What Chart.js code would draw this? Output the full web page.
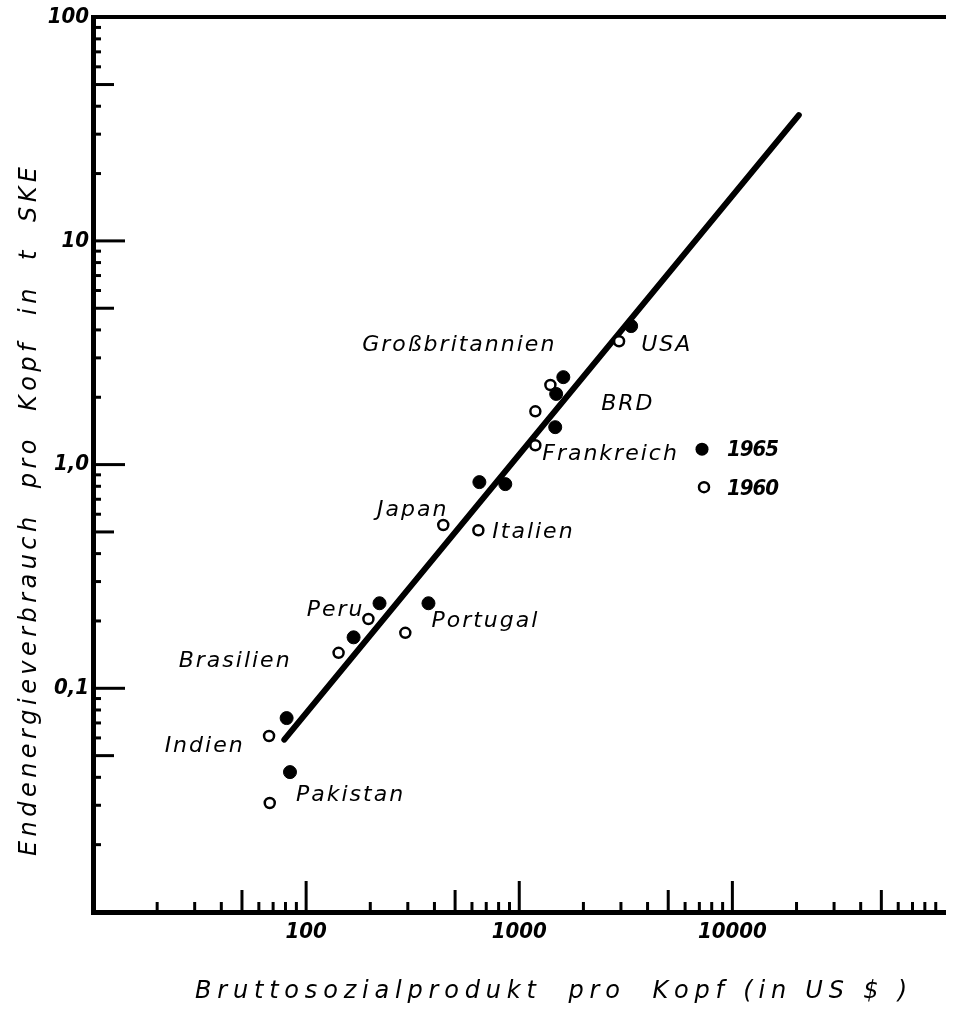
<!DOCTYPE html>
<html>
<head>
<meta charset="utf-8">
<script src="https://cdn.jsdelivr.net/npm/chart.js@4/dist/chart.umd.min.js"></script>
<style>
  html, body { margin: 0; padding: 0; background: #fff; }
  #wrap { width: 953px; height: 1012px; }
</style>
</head>
<body>
<div id="wrap"><canvas id="chart"></canvas></div>
<script>
// Länder (gleiche Reihenfolge in allen Reihen)
var countries = ['USA', 'Großbritannien', 'BRD', 'Frankreich', 'Japan', 'Italien',
                 'Peru', 'Portugal', 'Brasilien', 'Indien', 'Pakistan'];

// Bruttosozialprodukt pro Kopf (US $) und Endenergieverbrauch pro Kopf (t SKE)
var gnp1965    = [3350, 1610, 1490, 1475, 650, 860, 221, 375, 167, 81, 84];
var energy1965 = [4.16, 2.46, 2.07, 1.47, 0.835, 0.818, 0.240, 0.240, 0.169, 0.0736, 0.0422];
var gnp1960    = [2940, 1400, 1190, 1190, 440, 643, 196, 292, 142, 67, 67.5];
var energy1960 = [3.56, 2.27, 1.73, 1.22, 0.537, 0.509, 0.204, 0.177, 0.144, 0.0612, 0.0307];

// Ausgleichsgerade (Anfangs- und Endpunkt)
var trendGnp    = [79, 20500];
var trendEnergy = [0.059, 36.5];

// beschriftete Achsenwerte
var xTickValues = [100, 1000, 10000];
var xTickLabels = ['100', '1000', '10000'];
var yTickValues = [100, 10, 1, 0.1];
var yTickLabels = ['100', '10', '1,0', '0,1'];

var xTitle = 'Bruttosozialprodukt  pro  Kopf (in US $ )';
var yTitle = 'Endenergieverbrauch  pro  Kopf  in  t  SKE';

// Lage der Ländernamen relativ zum Punkt von 1965 (px), Ausrichtung
var labelPlace = [
  [10, 19, 'left'], [-9, -32, 'right'], [45, 10, 'left'], [-13, 27, 'left'],
  [-33, 28, 'right'], [-13, 48, 'left'], [-17, 7, 'right'], [3, 18, 'left'],
  [-64, 24, 'right'], [-44, 28, 'right'], [6, 23, 'left']
];

var FONT = '"DejaVu Sans", sans-serif';
var FONT_NUM = '"DejaVu Sans Condensed", "DejaVu Sans", sans-serif';

function toPoints(xs, ys) {
  return xs.map(function (x, i) { return { x: x, y: ys[i] }; });
}

// alle Werte 1..9 * 10^n zwischen min und max
function decadeTicks(min, max) {
  var out = [];
  for (var e = Math.floor(Math.log10(min)); e <= Math.ceil(Math.log10(max)); e++) {
    for (var m = 1; m <= 9; m++) {
      var v = Number((m * Math.pow(10, e)).toPrecision(3));
      if (v >= min && v <= max) out.push(v);
    }
  }
  return out;
}

function mantissa(v) {
  return Math.round(v / Math.pow(10, Math.floor(Math.log10(v) + 1e-9)));
}

function tickLabel(value, values, labels) {
  for (var i = 0; i < values.length; i++) {
    if (Math.abs(values[i] - value) / values[i] < 1e-6) return labels[i];
  }
  return '';
}

// Text mit Sperrung Zeichen für Zeichen schreiben
function spacedText(ctx, text, x, y, gap, align) {
  var w = 0;
  for (var i = 0; i < text.length; i++) w += ctx.measureText(text[i]).width;
  w += gap * (text.length - 1);
  if (align === 'right') x -= w;
  else if (align === 'center') x -= w / 2;
  for (var j = 0; j < text.length; j++) {
    ctx.fillText(text[j], x, y);
    x += ctx.measureText(text[j]).width + gap;
  }
}

function fittedText(ctx, text, x, y, width) {
  var w = 0;
  for (var i = 0; i < text.length; i++) w += ctx.measureText(text[i]).width;
  spacedText(ctx, text, x, y, (width - w) / (text.length - 1), 'left');
}

// Teilstriche nach innen: 1 lang, 5 mittel, Rest kurz
var innerTicks = {
  id: 'innerTicks',
  beforeDatasetsDraw: function (chart) {
    var ctx = chart.ctx, a = chart.chartArea;
    var xs = chart.scales.x, ys = chart.scales.y;
    ctx.save();
    ctx.strokeStyle = '#000';
    ctx.lineWidth = 3;
    decadeTicks(xs.min, xs.max).forEach(function (v) {
      if (v <= xs.min || v >= xs.max) return;
      var m = mantissa(v);
      var len = m === 1 ? 31 : (m === 5 ? 22 : 10);
      var px = xs.getPixelForValue(v);
      ctx.beginPath();
      ctx.moveTo(px, a.bottom);
      ctx.lineTo(px, a.bottom - len);
      ctx.stroke();
    });
    decadeTicks(ys.min, ys.max).forEach(function (v) {
      if (v <= ys.min || v >= ys.max) return;
      var m = mantissa(v);
      var len = m === 1 ? 32 : (m === 5 ? 21 : 8);
      var py = ys.getPixelForValue(v);
      ctx.beginPath();
      ctx.moveTo(a.left, py);
      ctx.lineTo(a.left + len, py);
      ctx.stroke();
    });
    ctx.restore();
  }
};

// Ländernamen, Legende und Achsentitel
var annotations = {
  id: 'annotations',
  afterDraw: function (chart) {
    var ctx = chart.ctx, a = chart.chartArea;
    var xs = chart.scales.x, ys = chart.scales.y;
    ctx.save();
    ctx.fillStyle = '#000';
    ctx.textBaseline = 'middle';

    ctx.font = 'italic 22px ' + FONT;
    countries.forEach(function (name, i) {
      var p = labelPlace[i];
      var px = xs.getPixelForValue(gnp1965[i]) + p[0];
      var py = ys.getPixelForValue(energy1965[i]) + p[1];
      spacedText(ctx, name, px, py, 2, p[2]);
    });

    // Legende
    var lx = a.left + 609, ly = a.top + 432;
    ctx.beginPath();
    ctx.arc(lx, ly, 6.5, 0, Math.PI * 2);
    ctx.fill();
    ctx.beginPath();
    ctx.arc(lx + 2, ly + 38, 5, 0, Math.PI * 2);
    ctx.lineWidth = 2.5;
    ctx.strokeStyle = '#000';
    ctx.stroke();
    ctx.font = 'italic bold 22px ' + FONT_NUM;
    spacedText(ctx, '1965', lx + 25, ly + 1, -1, 'left');
    spacedText(ctx, '1960', lx + 25, ly + 40, -1, 'left');

    // Achsentitel
    ctx.textBaseline = 'alphabetic';
    ctx.font = 'italic 24px ' + FONT;
    spacedText(ctx, xTitle, 195, 998, 5.8, 'left');
    ctx.translate(36, 856);
    ctx.rotate(-Math.PI / 2);
    fittedText(ctx, yTitle, 0, 0, 689);
    ctx.restore();
  }
};

var tickFont = { family: FONT_NUM, size: 22, style: 'italic', weight: 'bold' };

new Chart(document.getElementById('chart'), {
  data: {
    datasets: [
      {
        type: 'line',
        label: 'Ausgleichsgerade',
        data: toPoints(trendGnp, trendEnergy),
        borderColor: '#000',
        borderWidth: 6,
        borderCapStyle: 'round',
        pointRadius: 0,
        order: 3
      },
      {
        type: 'scatter',
        label: '1960',
        data: toPoints(gnp1960, energy1960),
        pointRadius: 5,
        borderWidth: 2.5,
        backgroundColor: '#fff',
        borderColor: '#000',
        order: 2
      },
      {
        type: 'scatter',
        label: '1965',
        data: toPoints(gnp1965, energy1965),
        pointRadius: 6.5,
        backgroundColor: '#000',
        borderColor: '#000',
        order: 1
      }
    ]
  },
  options: {
    responsive: true,
    maintainAspectRatio: false,
    animation: false,
    events: [],
    layout: { padding: { left: 0, top: 17, right: 6, bottom: 0 } },
    plugins: {
      legend: { display: false },
      tooltip: { enabled: false }
    },
    scales: {
      x: {
        type: 'logarithmic',
        position: 'bottom',
        min: 10,
        max: 100000,
        afterBuildTicks: function (s) {
          s.ticks = decadeTicks(s.min, s.max).map(function (v) { return { value: v }; });
        },
        afterFit: function (s) { s.height = 100; },
        ticks: {
          autoSkip: false,
          maxRotation: 0,
          padding: 7,
          color: '#000',
          font: tickFont,
          callback: function (v) { return tickLabel(v, xTickValues, xTickLabels); }
        },
        grid: { drawOnChartArea: false, drawTicks: false },
        border: { display: true, color: '#000', width: 5 }
      },
      x2: {
        type: 'logarithmic',
        position: 'top',
        min: 10,
        max: 100000,
        afterFit: function (s) { s.height = 0; },
        ticks: { display: false },
        grid: { drawOnChartArea: false, drawTicks: false },
        border: { display: true, color: '#000', width: 4 }
      },
      y: {
        type: 'logarithmic',
        position: 'left',
        min: 0.01,
        max: 100,
        afterBuildTicks: function (s) {
          s.ticks = decadeTicks(s.min, s.max).map(function (v) { return { value: v }; });
        },
        afterFit: function (s) { s.width = 93; },
        ticks: {
          autoSkip: false,
          padding: 4,
          color: '#000',
          font: tickFont,
          callback: function (v) { return tickLabel(v, yTickValues, yTickLabels); }
        },
        grid: { drawOnChartArea: false, drawTicks: false },
        border: { display: true, color: '#000', width: 5 }
      }
    }
  },
  plugins: [innerTicks, annotations]
});
</script>
</body>
</html>
